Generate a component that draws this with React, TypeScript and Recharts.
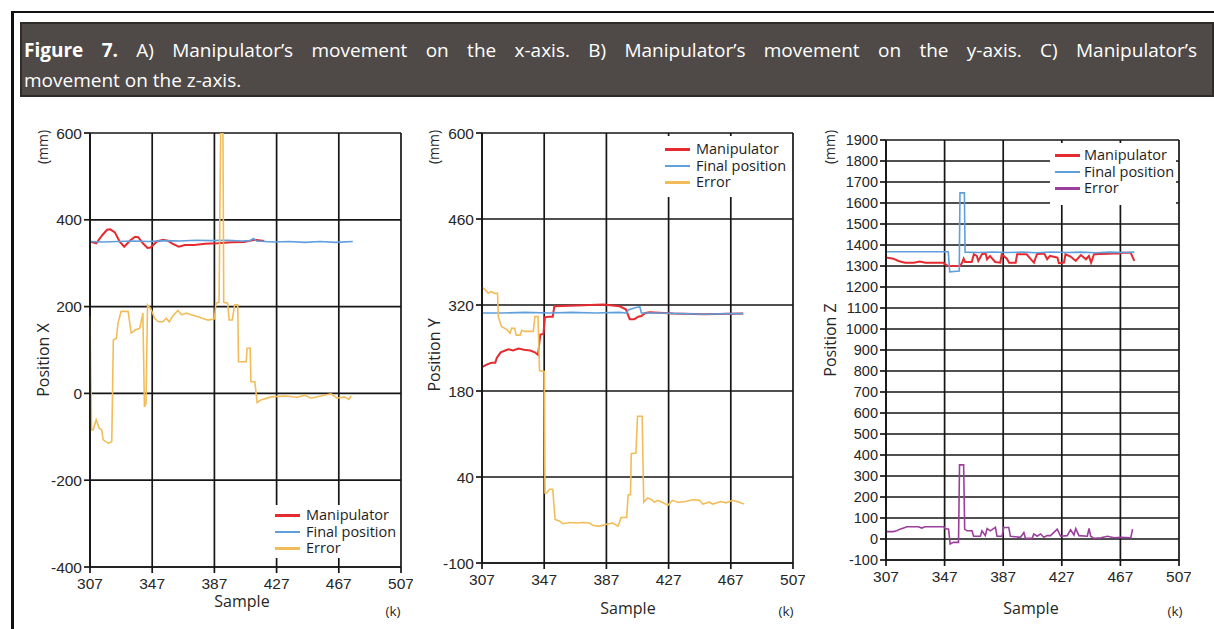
import React from "react"
import { LineChart, Line, XAxis, YAxis, CartesianGrid } from "recharts"

// sample axis (k) shared by all three panels
const sampleTicks = [307, 347, 387, 427, 467, 507]

const xTicks = [-400, -200, 0, 200, 400, 600]
const yTicks = [-100, 40, 180, 320, 460, 600]
const zTicks = [-100, 0, 100, 200, 300, 400, 500, 600, 700, 800, 900, 1000, 1100, 1200, 1300, 1400, 1500, 1600, 1700, 1800, 1900]

// [sample, mm]
const xManipulator = [[307,350],[311,346],[315,365],[318,377],[320,378],[323,371],[326,350],[329,338],[333,353],[336,361],[338,360],[341,346],[344,335],[346,336],[350,350],[354,354],[357,352],[360,345],[364,338],[368,342],[374,342],[381,345],[389,346],[398,348],[406,349],[413,354],[419,351]]
const xFinal = [[307,350],[315,349],[325,350],[335,351],[345,350],[355,352],[365,351],[375,353],[385,352],[395,353],[405,351],[410,352],[412,357],[414,351],[425,349],[435,350],[445,348],[455,350],[465,348],[476,350]]
const xError = [[307,177],[308,-84],[309,-84],[311,-61],[313,-81],[314.5,-84],[315.5,-107],[319,-115],[321,-111],[322,123],[324,127],[325,162],[327,189],[331.5,189],[333.5,139],[336,146],[339,150],[341,185],[342,-31],[343,-23],[344,204],[346.5,192],[348.5,173],[351,165],[354,165],[356,173],[358,165],[360,177],[363.5,191],[366,181],[369,185],[372,181],[376,177],[380,172],[383,169],[387,172],[388,208],[390,210],[391,600],[392.5,600],[393,210],[395.5,208],[396.5,169],[398.5,169],[400,204],[402,204],[402.5,73],[407.5,73],[408,104],[410,104],[410.5,27],[413,27],[414.5,-21],[417,-15],[423.5,-8],[432,-6],[440.5,-9],[445,-4],[449,-11],[455.5,-6],[462,-1],[466,-11],[470.5,-8],[473.5,-14],[475,-5]]

const yManipulator = [[307,219],[310,223],[313,226],[315.5,226],[316.5,234],[319,243],[322,246],[324,248],[327,246],[330.5,249],[334,247],[338,246],[341,243],[343,239],[344.5,272],[346.5,273],[347.5,300],[350,301],[352.5,301],[353.5,318],[368,319],[385,321],[395.5,318],[399.5,313],[402,297],[405,297],[407.5,301],[409.5,302],[412,307],[415,308],[430,306],[450,305],[475,306]]
const yFinal = [[307,307],[320,307],[335,308],[350,307],[365,308],[380,307],[395,308],[400,307],[401,312],[406,316],[408.5,317],[409.5,307],[420,307],[435,306],[450,305],[465,306],[475,306]]
const yError = [[307,349],[309,345],[311,339],[313,342],[315,339],[317,339],[317.5,301],[319.5,285],[323,280],[325,274],[326,282],[328,282],[329,271],[331.5,271],[332.5,279],[334.5,277],[340,277],[341,301],[343,301],[344,213],[347,212],[347.5,14],[348.5,14],[350.5,20],[352.5,20],[354,-29],[357,-32],[359,-36],[363.5,-34],[367.5,-35],[372,-34],[376,-35],[378.5,-39],[382.5,-40],[387,-37],[391,-35],[394.5,-40],[396.5,-26],[400,-26],[401,11],[402.5,11],[403,78],[406,79],[407,139],[410,139],[411,-1],[413.5,6],[416,3],[418,-1],[420,2],[423,-1],[426.5,-6],[429.5,2],[433,-1],[438,0],[442.5,3],[447,2],[449,-4],[453,-1],[455.5,-4],[460.5,0],[464,-2],[468,2],[472.5,-1],[475.5,-4]]

const zManipulator = [[307,1340],[312,1335],[315.5,1324],[320,1316],[326,1316],[330,1321],[334,1316],[346,1316],[347.5,1308],[349.5,1300],[357.5,1300],[359,1316],[360,1335],[361,1319],[365.5,1319],[367,1356],[369,1348],[370,1324],[372.5,1356],[375,1360],[376,1332],[378,1348],[381.5,1319],[385,1316],[386,1356],[389.5,1335],[391,1316],[395.5,1316],[396.5,1356],[403,1356],[405.5,1335],[408,1316],[410,1356],[415,1360],[417,1332],[419,1348],[424,1340],[425,1313],[428.5,1316],[429.5,1356],[433,1345],[436.5,1324],[440,1352],[443.5,1332],[445.5,1348],[447,1316],[449,1356],[463,1360],[466,1360],[468.5,1363],[474,1363],[476.5,1324]]
const zFinal = [[307,1368],[349.5,1368],[350.5,1272],[357,1276],[357.5,1648],[360.5,1648],[361,1366],[370,1364],[380,1367],[390,1364],[400,1366],[410,1363],[420,1367],[430,1364],[440,1366],[450,1363],[460,1366],[470,1364],[476.5,1366]]
const zError = [[307,35],[312,35],[314.3,39],[316.6,47],[320,55],[321.2,58],[329,58],[331.4,52],[333.7,58],[346.3,58],[347.4,50],[349.7,47],[350.8,-24],[353,-16],[356.5,-16],[357.2,353],[360,353],[360.7,47],[362.3,39],[365.7,39],[366.8,13],[371.4,13],[372.5,39],[374.8,16],[376,50],[378.2,39],[381.7,55],[382.8,13],[386.2,13],[387.4,55],[390.8,55],[391.9,13],[398.8,8],[401.1,31],[402.2,3],[406.8,3],[407.9,24],[410.2,13],[412.5,24],[414.8,8],[417,16],[419.3,16],[423.9,47],[426.2,13],[430.7,16],[433,44],[435.3,19],[436.5,50],[438.7,16],[444.4,13],[445.6,50],[446.7,13],[449,3],[453.6,6],[458.1,13],[462.7,6],[467.3,8],[474.1,6],[475.3,47]]

const seriesNames = ["Manipulator", "Final position", "Error"]

const RED = "#e52a30"
const BLUE = "#5f9fdc"
const ORANGE = "#f2bd58"
const PURPLE = "#9c3f9c"

const toRows = (pts: number[][]) => pts.map(([s, v]) => ({ s, v }))

const sans = "'Open Sans', 'Noto Sans', sans-serif"
const arial = "'Liberation Sans', Arial, sans-serif"

function Panel({ plotLeft, plotTop, plotW, plotH, yDomain, yTicks, yFont, series, colors, legend, yLabel, sampleX }: any) {
  const padL = 60
  const padT = 10
  const padR = 12
  const padB = 40
  return (
    <>
      <div style={{ position: "absolute", left: plotLeft - padL, top: plotTop - padT }}>
        <LineChart
          width={plotW + padL + padR}
          height={plotH + padT + padB}
          margin={{ top: padT, right: padR, left: 0, bottom: 0 }}
        >
          <CartesianGrid stroke="#161616" strokeWidth={1.7} />
          <XAxis
            dataKey="s"
            type="number"
            domain={[307, 507]}
            ticks={sampleTicks}
            interval={0}
            height={padB}
            stroke="#161616"
            strokeWidth={1.7}
            tickSize={6}
            tickMargin={5}
            tick={{ fill: "#262626", fontSize: 15.5, fontFamily: arial }}
          />
          <YAxis
            type="number"
            domain={yDomain}
            ticks={yTicks}
            interval={0}
            width={padL}
            stroke="#161616"
            strokeWidth={1.7}
            tickSize={6}
            tickMargin={2}
            allowDataOverflow
            tick={{ fill: "#262626", fontSize: yFont, fontFamily: arial }}
          />
          {series.map((pts: number[][], i: number) => (
            <Line
              key={i}
              data={toRows(pts)}
              dataKey="v"
              type="linear"
              stroke={colors[i]}
              strokeWidth={i === 0 ? 2 : 1.6}
              dot={false}
              isAnimationActive={false}
            />
          ))}
        </LineChart>
      </div>

      <div style={{ position: "absolute", left: legend.left, top: legend.top, width: legend.w, height: legend.h, background: "#fff", boxSizing: "border-box", paddingTop: legend.padTop }}>
        {seriesNames.map((n, i) => (
          <div key={n} style={{ display: "flex", alignItems: "center", height: 16.5, lineHeight: "16px", fontFamily: sans, fontSize: 14.5, color: "#1e1e1e", whiteSpace: "nowrap" }}>
            <span style={{ display: "inline-block", width: 25, height: 2.5, background: colors[i], marginLeft: legend.swatchIndent, marginRight: legend.gap }} />
            {n}
          </div>
        ))}
      </div>

      <div style={{ position: "absolute", left: yLabel.x - 30, top: 147 - 10, width: 60, height: 20, lineHeight: "20px", textAlign: "center", transform: "rotate(-90deg)", fontFamily: sans, fontSize: 14, color: "#262626" }}>(mm)</div>
      <div style={{ position: "absolute", left: yLabel.x - 60, top: yLabel.y - 10, width: 120, height: 20, lineHeight: "20px", textAlign: "center", transform: "rotate(-90deg)", fontFamily: sans, fontSize: 16, color: "#262626" }}>{yLabel.text}</div>
      <div style={{ position: "absolute", left: sampleX.sample - 40, top: sampleX.y - 10, width: 80, height: 20, lineHeight: "20px", textAlign: "center", fontFamily: sans, fontSize: 16, color: "#262626" }}>Sample</div>
      <div style={{ position: "absolute", left: sampleX.k - 20, top: 611 - 10, width: 40, height: 20, lineHeight: "20px", textAlign: "center", fontFamily: sans, fontSize: 13.5, color: "#262626" }}>(k)</div>
    </>
  )
}

export default function App() {
  return (
    <div style={{ position: "absolute", left: 0, top: 0, width: 1214, height: 629, background: "#fff", overflow: "hidden" }}>
      <div style={{ position: "absolute", left: 11, top: 11, width: 1240, height: 640, borderTop: "2.5px solid #111", borderLeft: "3px solid #111" }} />
      <div
        style={{
          position: "absolute", left: 20, top: 22, width: 1194, height: 75, boxSizing: "border-box",
          background: "#4f4a47", border: "2px solid #2f2b29", color: "#fff",
          fontFamily: sans, fontSize: 19, lineHeight: "30px", padding: "11px 15px 0 2px",
        }}
      >
        <div style={{ textAlign: "justify", textAlignLast: "justify" as any, whiteSpace: "normal" }}>
          <b>Figure 7.</b> A) Manipulator’s movement on the x-axis. B) Manipulator’s movement on the y-axis. C) Manipulator’s
        </div>
        <div>movement on the z-axis.</div>
      </div>

      <Panel
        plotLeft={90} plotTop={133} plotW={311} plotH={434}
        yDomain={[-400, 600]} yTicks={xTicks} yFont={15.5}
        series={[xManipulator, xFinal, xError]} colors={[RED, BLUE, ORANGE]}
        legend={{ left: 265, top: 505, w: 135, h: 53, padTop: 2, swatchIndent: 10, gap: 6 }}
        yLabel={{ x: 43, y: 360, text: "Position X" }}
        sampleX={{ sample: 242, y: 601, k: 393 }}
      />
      <Panel
        plotLeft={482} plotTop={133} plotW={311} plotH={430}
        yDomain={[-100, 600]} yTicks={yTicks} yFont={15.5}
        series={[yManipulator, yFinal, yError]} colors={[RED, BLUE, ORANGE]}
        legend={{ left: 656, top: 136, w: 134, h: 61, padTop: 5, swatchIndent: 9, gap: 6 }}
        yLabel={{ x: 434, y: 355, text: "Position Y" }}
        sampleX={{ sample: 628, y: 608, k: 786 }}
      />
      <Panel
        plotLeft={886} plotTop={140} plotW={293} plotH={420}
        yDomain={[-100, 1900]} yTicks={zTicks} yFont={14.5}
        series={[zManipulator, zFinal, zError]} colors={[RED, BLUE, PURPLE]}
        legend={{ left: 1050, top: 143, w: 126, h: 62, padTop: 4, swatchIndent: 5, gap: 4 }}
        yLabel={{ x: 830, y: 340, text: "Position Z" }}
        sampleX={{ sample: 1031, y: 608, k: 1175 }}
      />
    </div>
  )
}
